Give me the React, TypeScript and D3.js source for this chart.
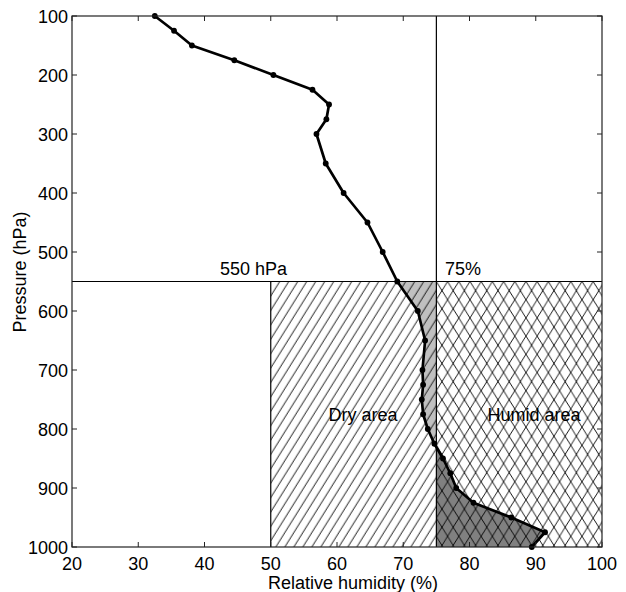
import React from "react";
import * as d3 from "d3";

const pressure = [100,125,150,175,200,225,250,275,300,350,400,450,500,550,600,650,700,725,750,775,800,825,850,875,900,925,950,975,1000];
const humidity = [32.5,35.4,38.1,44.5,50.4,56.3,58.8,58.4,56.9,58.3,61.0,64.6,66.9,69.1,72.2,73.3,72.9,73.0,72.8,73.0,73.7,74.7,76.0,77.1,78.0,80.6,86.3,91.4,89.4];
const xTicks = [20,30,40,50,60,70,80,90,100];
const yTicks = [100,200,300,400,500,600,700,800,900,1000];
const levelP = 550;
const thresholdRH = 75;
const dryLeftRH = 50;

const W = 626, H = 592;
const font = "Arial, 'Liberation Sans', Helvetica, sans-serif";

export default function App() {
  const x = d3.scaleLinear().domain([20, 100]).range([72, 602]);
  const y = d3.scaleLinear().domain([100, 1000]).range([16, 547]);
  const pts = pressure.map((p, i) => ({ p, v: humidity[i] }));
  const line = d3.line<{ p: number; v: number }>().x(d => x(d.v)).y(d => y(d.p));

  const lower = pts.filter(d => d.p >= levelP);
  let pc = 1000;
  let ci = lower.length - 1;
  for (let i = 0; i < lower.length - 1; i++) {
    const a = lower[i], b = lower[i + 1];
    if (a.v < thresholdRH && b.v >= thresholdRH) {
      pc = a.p + (thresholdRH - a.v) / (b.v - a.v) * (b.p - a.p);
      ci = i;
      break;
    }
  }
  const lightPts: [number, number][] = [
    ...lower.slice(0, ci + 1).map(d => [x(d.v), y(d.p)] as [number, number]),
    [x(thresholdRH), y(pc)],
    [x(thresholdRH), y(levelP)],
  ];
  const darkPts: [number, number][] = [
    [x(thresholdRH), y(pc)],
    ...lower.slice(ci + 1).map(d => [x(d.v), y(d.p)] as [number, number]),
    [x(thresholdRH), y(1000)],
  ];
  const poly = (a: [number, number][]) => "M" + a.map(p => p.join(",")).join("L") + "Z";

  const x0 = x(20), x1 = x(100), y0 = y(100), y1 = y(1000);
  const tl = 5;
  const axisColor = "#222";

  return (
    <svg width={W} height={H} style={{ position: "absolute", left: 0, top: 0, display: "block", background: "#fff" }}>
      <defs>
        <pattern id="hatch" patternUnits="userSpaceOnUse" x={x(dryLeftRH)} y={y(levelP)} width={9} height={14.4}>
          <line x1={0} y1={14.4} x2={9} y2={0} stroke="#000" strokeWidth={0.9} />
          <line x1={-9} y1={14.4} x2={0} y2={0} stroke="#000" strokeWidth={0.9} />
          <line x1={9} y1={14.4} x2={18} y2={0} stroke="#000" strokeWidth={0.9} />
        </pattern>
        <pattern id="cross" patternUnits="userSpaceOnUse" x={x(thresholdRH)} y={y(levelP)} width={11.2} height={18.2}>
          <line x1={0} y1={0} x2={11.2} y2={18.2} stroke="#000" strokeWidth={0.9} />
          <line x1={0} y1={18.2} x2={11.2} y2={0} stroke="#000" strokeWidth={0.9} />
        </pattern>
      </defs>
      <rect x={0} y={0} width={W} height={H} fill="#fff" />
      <path d={poly(lightPts)} fill="#c0c0c0" />
      <path d={poly(darkPts)} fill="#808080" />
      <rect x={x(dryLeftRH)} y={y(levelP)} width={x(thresholdRH) - x(dryLeftRH)} height={y1 - y(levelP)} fill="url(#hatch)" />
      <rect x={x(thresholdRH)} y={y(levelP)} width={x1 - x(thresholdRH)} height={y1 - y(levelP)} fill="url(#cross)" />
      <line x1={x0} x2={x1} y1={y(levelP)} y2={y(levelP)} stroke="#000" strokeWidth={1.2} />
      <line x1={x(thresholdRH)} x2={x(thresholdRH)} y1={y0} y2={y1} stroke="#000" strokeWidth={1.2} />
      <line x1={x(dryLeftRH)} x2={x(dryLeftRH)} y1={y(levelP)} y2={y1} stroke="#000" strokeWidth={1.2} />
      <text x={363} y={421} fontFamily={font} fontSize={18} textAnchor="middle" fill="#000">Dry area</text>
      <text x={534} y={421} fontFamily={font} fontSize={18} textAnchor="middle" fill="#000">Humid area</text>
      <text x={220} y={275} fontFamily={font} fontSize={18} fill="#000">550 hPa</text>
      <text x={445} y={275} fontFamily={font} fontSize={18} fill="#000">75%</text>
      <path d={line(pts) || ""} fill="none" stroke="#000" strokeWidth={2.7} strokeLinejoin="round" />
      {pts.map((d, i) => (
        <circle key={i} cx={x(d.v)} cy={y(d.p)} r={2.9} fill="#000" />
      ))}
      <rect x={x0} y={y0} width={x1 - x0} height={y1 - y0} fill="none" stroke={axisColor} strokeWidth={1.2} />
      {xTicks.map(t => (
        <g key={"xt" + t}>
          <line x1={x(t)} x2={x(t)} y1={y1} y2={y1 - tl} stroke={axisColor} strokeWidth={1} />
          <line x1={x(t)} x2={x(t)} y1={y0} y2={y0 + tl} stroke={axisColor} strokeWidth={1} />
          <text x={x(t)} y={569.5} fontFamily={font} fontSize={18} textAnchor="middle" fill="#000">{t}</text>
        </g>
      ))}
      {yTicks.map(t => (
        <g key={"yt" + t}>
          <line x1={x0} x2={x0 + tl} y1={y(t)} y2={y(t)} stroke={axisColor} strokeWidth={1} />
          <line x1={x1} x2={x1 - tl} y1={y(t)} y2={y(t)} stroke={axisColor} strokeWidth={1} />
          <text x={68} y={y(t) + 6.5} fontFamily={font} fontSize={18} textAnchor="end" fill="#000">{t}</text>
        </g>
      ))}
      <text x={353} y={588.5} fontFamily={font} fontSize={18} textAnchor="middle" fill="#000">Relative humidity (%)</text>
      <text transform={`translate(26,272) rotate(-90)`} fontFamily={font} fontSize={18} textAnchor="middle" fill="#000">Pressure (hPa)</text>
    </svg>
  );
}
